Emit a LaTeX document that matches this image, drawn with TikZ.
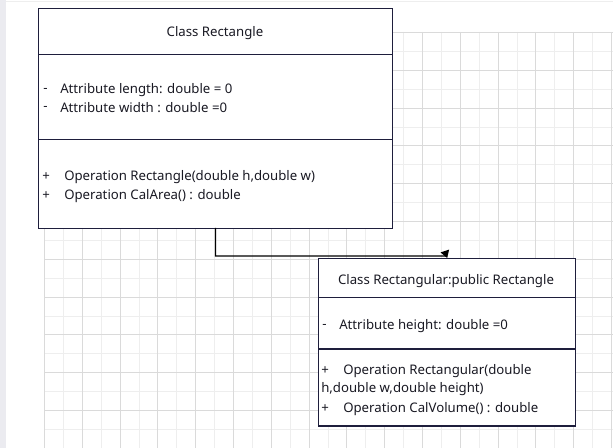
\documentclass[tikz,border=0pt]{standalone}
\usepackage{fontspec}
\setmainfont{Noto Sans}
\usetikzlibrary{arrows.meta}
\definecolor{edge}{RGB}{30,30,60}
\definecolor{txt}{RGB}{25,25,35}
\definecolor{gmaj}{RGB}{218,218,218}
\definecolor{gmin}{RGB}{238,238,238}
\definecolor{strip}{RGB}{235,235,240}
\tikzset{
  umlbox/.style={draw=edge, line width=1pt, fill=white, inner sep=0pt, anchor=north west},
  divider/.style={draw=edge, line width=1pt},
  lbl/.style={text=txt, font=\fontsize{9.9pt}{11pt}\selectfont, inner sep=0pt, anchor=west},
  title/.style={text=txt, font=\fontsize{9.9pt}{11pt}\selectfont, inner sep=0pt},
  conn/.style={draw=black, line width=0.9pt, -{Triangle[width=6.5pt,length=5.5pt]}},
  gridmaj/.style={draw=gmaj, line width=0.75pt},
  gridmin/.style={draw=gmin, line width=0.75pt}
}
\begin{document}
\begin{tikzpicture}[x=0.75pt,y=-0.75pt]
\useasboundingbox (0,0) rectangle (613,448);
\fill[white] (0,0) rectangle (613,448);
\fill[strip] (0,0) rectangle (6,448);
\draw[gridmin] (6,1.5) -- (613,1.5);
% grid, aligned to pixel centres
\foreach \k in {0,...,15} {
  \pgfmathsetmacro{\xm}{round(44+18.9+37.8*\k)+0.5}
  \draw[gridmin] (\xm,32) -- (\xm,448);
}
\foreach \k in {0,...,11} {
  \pgfmathsetmacro{\ym}{round(32+18.9+37.8*\k)+0.5}
  \draw[gridmin] (44,\ym) -- (613,\ym);
}
\foreach \k in {0,...,15} {
  \pgfmathsetmacro{\xM}{round(44+37.8*\k)+0.5}
  \draw[gridmaj] (\xM,32) -- (\xM,448);
}
\foreach \k in {0,...,11} {
  \pgfmathsetmacro{\yM}{round(32+37.8*\k)+0.5}
  \draw[gridmaj] (44,\yM) -- (613,\yM);
}
% class 1
\node[umlbox, minimum width=265.5pt, minimum height=165pt] (c1) at (38,8) {};
\draw[divider] (38,54.5) -- (392,54.5);
\draw[divider] (38,139.5) -- (392,139.5);
\node[title] (t1) at (215,33) {Class Rectangle};
\node[lbl] (m1) at (43,90) {-};
\node[lbl] (a1) at (60,90) {Attribute length: double = 0};
\node[lbl] (m2) at (43,108) {-};
\node[lbl] (a2) at (60,108) {Attribute width : double =0};
\node[lbl] (p1) at (42,177) {+};
\node[lbl] (o1) at (64,177) {Operation Rectangle(double h,double w)};
\node[lbl] (p2) at (42,196) {+};
\node[lbl] (o2) at (64,196) {Operation CalArea() : double};
% class 2
\node[umlbox, minimum width=192.75pt, minimum height=125.6pt] (c2) at (318,258) {};
\draw[divider] (318,297.7) -- (575,297.7);
\draw[divider] (318,349) -- (575,349);
\node[title] (t2) at (446,281) {Class Rectangular:public Rectangle};
\node[lbl] (m3) at (322,326) {-};
\node[lbl] (a3) at (339,326) {Attribute height: double =0};
\node[lbl] (p3) at (321,371) {+};
\node[lbl] (o3) at (343,371) {Operation Rectangular(double};
\node[lbl] (o3b) at (321,389) {h,double w,double height)};
\node[lbl] (p4) at (321,409) {+};
\node[lbl] (o4) at (343,409) {Operation CalVolume() : double};
% connector
\coordinate (s) at (215.5,228);
\coordinate (j) at (446.5,256);
\draw[conn] (s) -- (s |- j) -- (j) -- (c2.north);
\end{tikzpicture}
\end{document}
